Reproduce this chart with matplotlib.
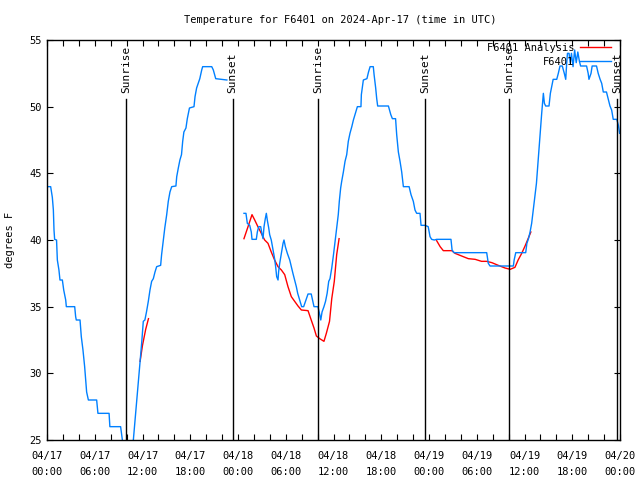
import numpy as np
import pandas as pd
import matplotlib
matplotlib.use("Agg")
import matplotlib.pyplot as plt
import matplotlib.dates as mdates

plt.rcParams['font.family'] = 'DejaVu Sans Mono'
plt.rcParams['font.size'] = 7.5

base = pd.Timestamp("2024-04-17 00:00")

# observed temps (hours since 04/17 00:00 UTC, degrees F); NaN = gap
obs_h = [0.1, 0.46, 0.67, 0.8, 0.88, 0.96, 1.2, 1.3, 1.5, 1.63, 1.93, 2.1, 2.35, 2.43,
         3.48, 3.6, 3.68, 4.15, 4.31, 4.52, 4.73, 4.86, 4.98, 5.2, 6.24, 6.4, 7.8, 7.9,
         9.25, 9.47, 9.8, 10.5, 10.85,
         11.9, 12.1, 12.3, 12.5, 12.73, 12.94, 13.15, 13.36, 13.57, 13.78, 14.28, 14.4,
         14.6, 14.8, 15.04, 15.24, 15.45, 15.67, 16.2, 16.3, 16.5, 16.7, 16.9, 17.05,
         17.2, 17.46, 17.63, 17.9, 18.47, 18.6, 18.8, 19.0, 19.2, 19.44, 19.56, 20.7,
         20.9, 21.2, 22.6, 23.6,
         24.75, 25.0, 25.17, 25.47, 25.67, 25.76, 26.3, 26.43, 26.6, 26.85, 27.0, 27.14,
         27.27, 27.43, 27.56, 27.68, 27.86, 27.98, 28.18, 28.4, 28.6, 28.73, 28.86,
         29.03, 29.1, 29.24, 29.45, 29.66, 29.78, 29.95, 30.2, 30.5, 30.7, 30.9, 31.12,
         31.33, 31.5, 31.75, 32.0, 32.25, 32.6, 32.8, 33.2, 33.4, 33.55, 34.05, 34.27,
         34.4, 34.56, 34.8, 35.0, 35.2, 35.4, 35.56, 35.78, 36.0, 36.2, 36.4, 36.6,
         36.73, 36.9, 37.03, 37.24, 37.45, 37.66, 37.86, 38.07, 38.3, 38.5, 38.7, 39.0,
         39.45, 39.5, 39.75, 40.2, 40.4, 40.6, 41.0, 41.1, 41.3, 41.43, 41.55, 42.9,
         43.2, 43.4, 43.8, 43.94, 44.15, 44.36, 44.57, 44.78, 45.5, 45.74, 46.03, 46.24,
         46.45, 46.87, 47.0, 47.5, 47.9, 48.13, 48.33, 48.67, 48.96, 50.76, 50.9, 51.14,
         55.25, 55.45, 55.67, 58.6, 58.7, 58.9, 60.15, 60.3, 60.5, 60.7, 60.9, 61.1,
         61.3, 61.5, 61.75, 61.95, 62.16, 62.37, 62.5, 62.66, 63.08, 63.25, 63.5, 63.6,
         64.05, 64.25, 64.46, 64.75, 65.0, 65.18, 65.3, 65.4, 65.6, 65.75, 65.9, 66.1,
         66.3, 66.5, 66.7, 66.9, 67.05, 67.2, 67.8, 68.0, 68.1, 68.36, 68.5, 69.05,
         69.26, 69.5, 69.7, 69.9, 70.3, 70.45, 70.74, 70.95, 71.15, 71.6, 71.8, 71.95]
obs_t = [44.0, 44.0, 43.2, 42.25, 40.75, 40.05, 40.0, 38.5, 37.75, 37.0, 37.0, 36.25, 35.5, 35.0,
         35.0, 34.25, 34.0, 34.0, 32.75, 31.75, 30.5, 29.5, 28.6, 28.0, 28.0, 27.0, 27.0, 26.0,
         26.0, 25.0, 24.5, 24.5, 25.0,
         32.3, 33.9, 34.0, 34.6, 35.4, 36.25, 36.9, 37.1, 37.6, 38.0, 38.1, 38.9,
         39.9, 40.9, 41.9, 42.9, 43.6, 44.0, 44.05, 44.75, 45.4, 46.0, 46.4, 47.4,
         48.1, 48.4, 49.1, 49.9, 50.0, 50.75, 51.4, 51.75, 52.1, 52.75, 53.0, 53.0,
         52.75, 52.1, 52.0, np.nan,
         42.0, 42.0, 41.25, 41.1, 40.6, 40.05, 40.05, 40.6, 41.0, 41.0, 40.5, 40.1,
         41.0, 41.6, 42.0, 41.5, 40.9, 40.4, 40.0, 39.25, 38.6, 38.0, 37.25,
         37.0, 37.6, 38.25, 39.0, 39.75, 40.0, 39.5, 39.0, 38.5, 38.0, 37.5, 37.0,
         36.5, 36.0, 35.5, 35.0, 35.0, 35.6, 35.95, 35.95, 35.4, 35.0, 35.0, 34.4,
         34.0, 34.6, 35.0, 35.4, 36.0, 36.9, 37.1, 37.9, 38.9, 39.9, 40.9, 41.9,
         42.9, 43.9, 44.4, 45.1, 45.9, 46.4, 47.4, 48.0, 48.5, 49.0, 49.4, 50.0,
         50.0, 50.9, 52.0, 52.1, 52.6, 53.0, 53.0, 52.4, 51.4, 50.6, 50.05, 50.05,
         49.4, 49.1, 49.1, 47.9, 46.6, 45.9, 45.1, 44.0, 44.0, 43.4, 42.9, 42.25,
         42.0, 42.0, 41.1, 41.1, 41.0, 40.25, 40.05, 40.0, 40.05, 40.05, 39.25, 39.05,
         39.05, 38.25, 38.05, 38.05, 38.5, 39.05, 39.05, 39.75, 40.1, 40.6, 41.25, 42.25,
         43.25, 44.25, 46.25, 47.75, 49.5, 51.0, 50.25, 50.05, 50.05, 51.0, 51.75, 52.05,
         52.05, 52.5, 53.05, 53.05, 52.5, 52.05, 53.25, 54.0, 54.0, 53.25, 54.0, 53.0,
         54.25, 53.3, 54.1, 53.4, 53.05, 53.05, 53.05, 52.5, 52.05, 52.5, 53.05, 53.05,
         52.5, 52.05, 51.75, 51.1, 51.1, 50.75, 50.05, 49.75, 49.05, 49.05, 48.6, 48.0]

# analysis temps (three separate runs)
ana_h = [11.7, 12.0, 12.4, 12.75, np.nan,
         24.75, 25.26, 25.76, 26.1, 26.5, 26.93, 27.35, 27.77, 28.18, 28.6, 29.03, 29.45,
         29.87, 30.28, 30.7, 31.12, 31.54, 31.96, 32.8, 33.2, 33.55, 33.85, 34.27, 34.8,
         35.1, 35.5, 35.78, 36.1, 36.4, 36.7, np.nan,
         48.96, 49.4, 49.8, 50.86, 51.27, 52.1, 52.94, 53.8, 54.6, 55.25, 55.9, 56.7,
         57.55, 58.2, 58.8, 59.2, 59.65, 60.07, 60.8]
ana_t = [30.9, 32.1, 33.3, 34.1, np.nan,
         40.1, 41.0, 41.9, 41.5, 41.0, 40.5, 40.0, 39.75, 39.1, 38.5, 38.0, 37.75,
         37.4, 36.5, 35.75, 35.4, 35.05, 34.75, 34.7, 34.0, 33.4, 32.8, 32.6, 32.4,
         33.0, 33.9, 35.6, 36.9, 38.9, 40.1, np.nan,
         39.95, 39.5, 39.2, 39.2, 39.0, 38.8, 38.6, 38.55, 38.4, 38.4, 38.3, 38.1,
         37.9, 37.8, 37.95, 38.5, 39.0, 39.55, 40.6]

sun_h = [9.93, 23.33, 34.09, 47.5, 58.09, 71.66]
sun_lbl = ["Sunrise", "Sunset", "Sunrise", "Sunset", "Sunrise", "Sunset"]

x0 = mdates.date2num(base.to_pydatetime())

def to_num(hours):
    # NaN passes through and breaks the line
    return x0 + np.asarray(hours, dtype=float) / 24.0

obs_x = to_num(obs_h)
ana_x = to_num(ana_h)

fig = plt.figure(figsize=(6.4, 4.8), dpi=100)
ax = fig.add_axes([47/640, 40/480, 573/640, 400/480])

ax.plot(ana_x, ana_t, color='#ff0000', lw=1.0, label='F6401 Analysis')
ax.plot(obs_x, obs_t, color='#0080ff', lw=1.0, label='F6401')

for xs, lbl in zip(to_num(sun_h), sun_lbl):
    ax.plot([xs, xs], [25, 50.55], color='black', lw=1.0)
    ax.text(xs, 51.05, lbl, rotation=90, ha='center', va='bottom', fontsize=8)

ax.set_xlim(x0, x0 + 3)
ax.set_ylim(25, 55)
ax.xaxis.set_major_locator(mdates.HourLocator(byhour=[0, 6, 12, 18]))
ax.xaxis.set_minor_locator(mdates.HourLocator(interval=2))
ax.xaxis.set_major_formatter(mdates.DateFormatter('%m/%d\n%H:%M'))
ax.set_yticks(range(25, 56, 5))
ax.tick_params(which='both', direction='in', top=True, right=True, length=4, width=0.8)
ax.tick_params(axis='x', which='major', pad=8)
ax.tick_params(axis='y', pad=4)
for lab in ax.get_xticklabels():
    lab.set_linespacing(1.7)
for s in ax.spines.values():
    s.set_linewidth(1.0)

ax.set_ylabel('degrees F', labelpad=10)
fig.text(340/640, 1 - 20/480, 'Temperature for F6401 on 2024-Apr-17 (time in UTC)',
         ha='center', va='center', fontsize=7.5)

ax.legend(loc='upper right', bbox_to_anchor=(612/640, 1 - 42/480),
          bbox_transform=fig.transFigure, frameon=False, handlelength=3.0,
          markerfirst=False, borderaxespad=0, labelspacing=0.35, handletextpad=0.5,
          fontsize=7.5, borderpad=0.1)

fig.savefig('out.png', dpi=100)
